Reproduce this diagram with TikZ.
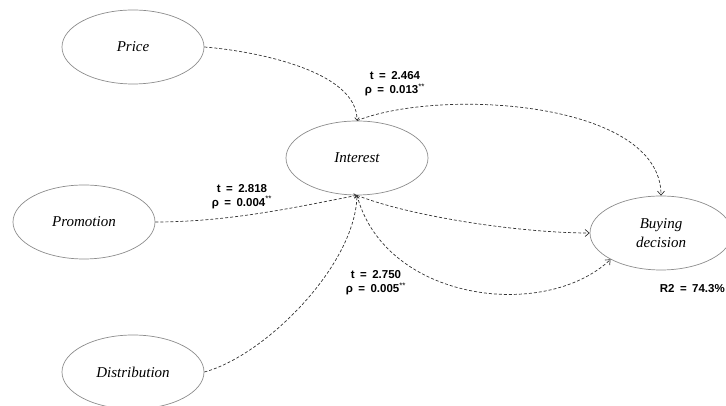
\documentclass[tikz,border=0pt]{standalone}
\usepackage{fontspec}
\setmainfont{Liberation Serif}
\newfontfamily\lblfont[WordSpace=1.7]{Liberation Sans}
\usetikzlibrary{shapes.geometric,arrows.meta}
\newcommand{\sigstars}{\textsuperscript{\mdseries **}}
\begin{document}
\begin{tikzpicture}[x=1pt,y=1pt,
  construct/.style={ellipse,draw=black!45,line width=0.7pt,minimum width=142pt,minimum height=74pt,inner sep=0pt,align=center,font=\itshape\fontsize{15}{19}\selectfont},
  relpath/.style={draw=black!80,line width=0.7pt,dash pattern=on 3pt off 2pt,-{Straight Barb[length=4pt,width=7pt]}},
  inpath/.style={relpath,-{Straight Barb[length=2.5pt,width=4.5pt]}},
  stat/.style={align=center,inner sep=0pt,font=\lblfont\bfseries\fontsize{11.5}{14}\selectfont}]
\useasboundingbox (0,0) rectangle (726,406);
% constructs
\node[construct] (price) at (133,359) {Price};
\node[construct] (promo) at (84,184) {Promotion};
\node[construct] (dist) at (133,34) {Distribution};
\node[construct] (int) at (357,248) {Interest};
\node[construct] (buy) at (661,173) {Buying\\decision};
% paths
\draw[inpath] (price.east) .. controls +(50,-4) and +(0,50) .. (int.north);
\draw[inpath] (promo.east) .. controls +(75,0) and +(-57,-11) .. (int.south);
\draw[inpath] (dist.east) .. controls +(60,16) and +(-2,-71) .. (int.south);
\draw[relpath] (int.north) .. controls +(83,33) and +(0,95) .. (buy.north);
\draw[relpath] (int.south) .. controls +(53,-21) and +(-70,0) .. (buy.west);
\draw[relpath] (int.south) .. controls +(28,-106) and +(-66,-62) .. (buy.south west);
% statistics
\node[stat] (s1) at (395,322) {t = 2.464\\ρ = 0.013\sigstars};
\node[stat] (s2) at (242,209.5) {t = 2.818\\ρ = 0.004\sigstars};
\node[stat] (s3) at (376,123) {t = 2.750\\ρ = 0.005\sigstars};
\node[stat,anchor=east] (r2) at (725,117) {R2 = 74.3\%};
\end{tikzpicture}
\end{document}
